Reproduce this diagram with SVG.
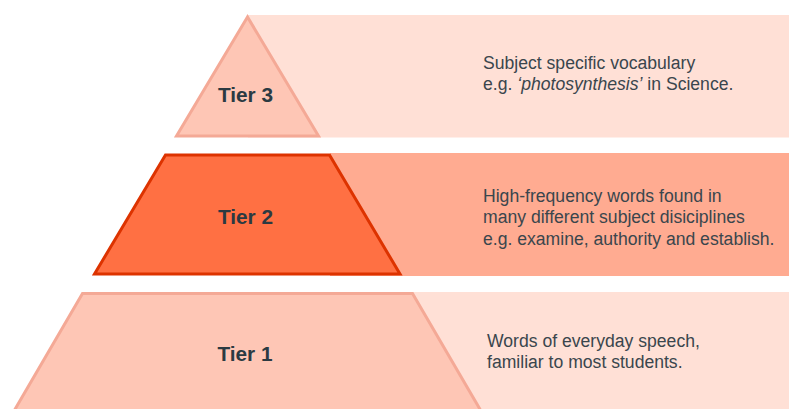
<svg xmlns="http://www.w3.org/2000/svg" width="789" height="409" viewBox="0 0 789 409">
<style>
.light{fill:#FFE0D6}
.mid{fill:#FFAB91}
.pale{fill:#FEC6B5;stroke:#F4A996;stroke-width:3;stroke-linejoin:miter}
.hot{fill:#FF7043;stroke:#DD3300;stroke-width:3;stroke-linejoin:miter}
.tier{font-family:"Liberation Sans",Arial,sans-serif;font-weight:bold;font-size:20.8px;fill:#2B3A42;text-anchor:middle}
.desc{font-family:"Liberation Sans",Arial,sans-serif;font-size:17.6px;fill:#3A464D}
</style>
<rect width="789" height="409" fill="#FFFFFF"/>
<g id="tier3">
<rect class="light" x="248" y="15" width="541" height="122.5"/>
<polygon class="pale" points="247.5,17 176.5,136 318.5,136"/>
<text class="tier" x="245.5" y="101.5">Tier 3</text>
<text class="desc" x="483" y="69">Subject specific vocabulary</text>
<text class="desc" x="483" y="90">e.g. <tspan font-style="italic">‘photosynthesis’</tspan> in Science.</text>
</g>
<g id="tier2">
<rect class="mid" x="330" y="153" width="459" height="123"/>
<polygon class="hot" points="165.5,155 329.5,155 400,274 94.5,274"/>
<text class="tier" x="245.5" y="224">Tier 2</text>
<text class="desc" x="483" y="201.5">High-frequency words found in</text>
<text class="desc" x="483" y="223">many different subject disiciplines</text>
<text class="desc" x="483" y="244.5">e.g. examine, authority and establish.</text>
</g>
<g id="tier1">
<rect class="light" x="413" y="292" width="376" height="117"/>
<polygon class="pale" points="82.5,293.5 412.5,293.5 481,411 14,411"/>
<text class="tier" x="245" y="361">Tier 1</text>
<text class="desc" x="487" y="346.5">Words of everyday speech,</text>
<text class="desc" x="487" y="368">familiar to most students.</text>
</g>
<g id="connectors"/>
</svg>
